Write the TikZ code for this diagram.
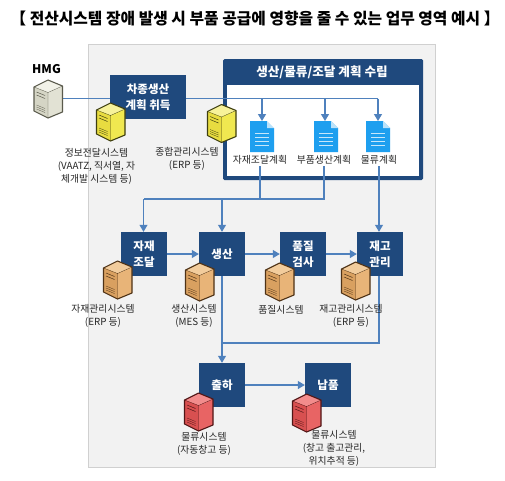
\documentclass[tikz,border=0pt]{standalone}
\usepackage{fontspec}
\setmainfont{Noto Sans CJK KR}
\usetikzlibrary{arrows.meta}
\definecolor{navy}{HTML}{1F497D}
\definecolor{flow}{HTML}{4F81BD}
\definecolor{panel}{HTML}{F2F2F2}
\definecolor{panelline}{HTML}{D0D0D0}
\definecolor{docblue}{HTML}{1E9FEF}
\definecolor{ya}{HTML}{E8DC40}\definecolor{yb}{HTML}{F7F29A}\definecolor{yc}{HTML}{F0E850}\definecolor{yd}{HTML}{3E3E10}
\definecolor{oa}{HTML}{D9A060}\definecolor{ob}{HTML}{F2CC9C}\definecolor{oc}{HTML}{E8B478}\definecolor{od}{HTML}{4E3216}
\definecolor{ra}{HTML}{D85050}\definecolor{rb}{HTML}{F28C8C}\definecolor{rc}{HTML}{E86464}\definecolor{rd}{HTML}{501616}
\definecolor{wa}{HTML}{D5D5C5}\definecolor{wb}{HTML}{F2F2E8}\definecolor{wc}{HTML}{E2E2D4}\definecolor{wd}{HTML}{5A5A4C}
\tikzset{
  stage/.style={fill=navy,text=white,inner sep=0pt,align=center,font=\fontsize{11.5}{16}\selectfont\bfseries},
  capt/.style={inner sep=0pt,align=center,text=black!85,font=\fontsize{9.8}{13}\selectfont},
  flowline/.style={draw=flow,line width=1.15pt},
  flowarrow/.style={flowline,-{Triangle[length=7pt,width=8pt]}},
  pics/srv/.style n args={4}{code={
    \fill[#3] (0,7) -- (14,0) -- (28.5,6) -- (28.5,32) -- (14,38) -- (0,31) -- cycle;
    \fill[#2] (0,7) -- (14,0) -- (28.5,6) -- (14,12.5) -- cycle;
    \fill[#1] (0,7) -- (14,12.5) -- (14,38) -- (0,31) -- cycle;
    \draw[#4,line width=1.1pt,line join=round] (0,7) -- (14,0) -- (28.5,6) -- (28.5,32) -- (14,38) -- (0,31) -- cycle;
    \draw[#4,line width=.3pt] (0,7) -- (14,12.5) -- (28.5,6) (14,12.5) -- (14,38);
    \draw[#4,line width=.5pt] (2.5,12) -- (11,15.5) (2.5,15) -- (11,18.5);
    \draw[#4,line width=.3pt] (2.5,25) -- (11,28.5) (2.5,27) -- (11,30.5) (2.5,29) -- (11,32.5);
  }},
  pics/paper/.style={code={
    \fill[docblue] (0,0) -- (17,0) -- (24,7) -- (24,31) -- (0,31) -- cycle;
    \fill[white] (17,0) -- (24,0) -- (24,7) -- cycle;
    \fill[docblue!30] (17,0) -- (24,7) -- (17,7) -- cycle;
    \foreach \yy in {12,16,20,24} \draw[white!75!docblue,line width=1pt] (5,\yy) -- (19,\yy);
  }}
}
\newcommand{\ysrv}[2]{\pic at (#1,#2) {srv={ya}{yb}{yc}{yd}};}
\newcommand{\osrv}[2]{\pic at (#1,#2) {srv={oa}{ob}{oc}{od}};}
\newcommand{\rsrv}[2]{\pic at (#1,#2) {srv={ra}{rb}{rc}{rd}};}
\begin{document}
\begin{tikzpicture}[x=1pt,y=-1pt]
\useasboundingbox (0,0) rectangle (505,480);
\fill[white] (0,0) rectangle (505,480);
\node[inner sep=0pt,font=\fontsize{15.8}{18}\selectfont\bfseries] (title) at (255,18.5) {【 전산시스템 장애 발생 시 부품 공급에 영향을 줄 수 있는 업무 영역 예시 】};
\path[fill=panel,draw=panelline,line width=.8pt] (88,44) rectangle (435,467);
% plan box
\fill[navy,rounded corners=1.5pt] (223,59) rectangle (423,180);
\fill[white] (227,85) rectangle (419,176);
\node[text=white,inner sep=0pt,font=\fontsize{12.6}{15}\selectfont\bfseries] (plantitle) at (322,72) {생산/물류/조달 계획 수립};
% named anchors
\coordinate (hmgout) at (62,98.5);
\coordinate (drop1) at (262,98.5);
\coordinate (drop2) at (325,98.5);
\coordinate (drop3) at (378,98.5);
\coordinate (sa) at (260,166);
\coordinate (sb) at (324,166);
\coordinate (sc) at (379,166);
\coordinate (ja) at (260,199);
\coordinate (jb) at (324,199);
\coordinate (jl) at (143.5,199);
\coordinate (jm) at (222,199);
\coordinate (jr) at (379,343);
\coordinate (jx) at (222,343);
% stage nodes
\node[stage,minimum width=76pt,minimum height=44pt] (acq) at (148,97) {차종생산\\계획 취득};
\node[stage,minimum width=46pt,minimum height=44pt] (mat) at (144,254) {자재\\조달};
\node[stage,minimum width=46pt,minimum height=44pt] (prod) at (222,254) {생산};
\node[stage,minimum width=46pt,minimum height=44pt] (qual) at (303,254) {품질\\검사};
\node[stage,minimum width=46pt,minimum height=44pt] (inv) at (380,254) {재고\\관리};
\node[stage,minimum width=46pt,minimum height=44pt] (ship) at (222,385) {출하};
\node[stage,minimum width=46pt,minimum height=44pt] (deliv) at (328,385) {납품};
% connectors
\draw[flowline] (hmgout) -- (acq.west |- hmgout);
\draw[flowline] (acq.east |- hmgout) -- (drop3);
\draw[flowarrow] (drop1) -- (262,121);
\draw[flowarrow] (drop2) -- (325,121);
\draw[flowarrow] (drop3) -- (378,121);
\draw[flowline] (sa) -- (ja);
\draw[flowline] (sb) -- (jb) -- (jl);
\draw[flowarrow] (jl) -- (jl |- mat.north);
\draw[flowarrow] (jm) -- (prod.north);
\draw[flowarrow] (sc) -- (sc |- inv.north);
\draw[flowarrow] (mat.east) -- (prod.west);
\draw[flowarrow] (prod.east) -- (qual.west);
\draw[flowarrow] (qual.east) -- (inv.west);
\draw[flowarrow] (prod.south) -- (ship.north);
\draw[flowline] (sc |- inv.south) -- (jr) -- (jx);
\draw[flowarrow] (ship.east) -- (deliv.west);
% icons
\node[inner sep=0pt,font=\fontsize{12}{14}\selectfont\bfseries] (hmg) at (46.5,69) {HMG};
\pic at (34,80) {srv={wa}{wb}{wc}{wd}};
\ysrv{96.5}{103}
\ysrv{207.5}{104.5}
\pic at (250,121) {paper};
\pic at (314,121) {paper};
\pic at (366,121) {paper};
\osrv{103.5}{261}
\osrv{185.5}{263}
\osrv{265.5}{263}
\osrv{341.5}{262}
\rsrv{184.5}{393}
\rsrv{292.5}{394}
% captions
\node[capt] (c1) at (96.5,166) {정보전달시스템\\(VAATZ, 직서열, 자\\체개발 시스템 등)};
\node[capt] (c2) at (187,158.5) {종합관리시스템\\(ERP 등)};
\node[capt] (d1) at (260,160) {자재조달계획};
\node[capt] (d2) at (324,160) {부품생산계획};
\node[capt] (d3) at (379,160) {물류계획};
\node[capt] (o1) at (103,316) {자재관리시스템\\(ERP 등)};
\node[capt] (o2) at (194,316) {생산시스템\\(MES 등)};
\node[capt] (o3) at (281,309.5) {품질시스템};
\node[capt] (o4) at (351,316) {재고관리시스템\\(ERP 등)};
\node[capt] (r1) at (204,444) {물류시스템\\(자동창고 등)};
\node[capt] (r2) at (334,448.5) {물류시스템\\(창고 출고관리,\\위치추적 등)};
\end{tikzpicture}
\end{document}
